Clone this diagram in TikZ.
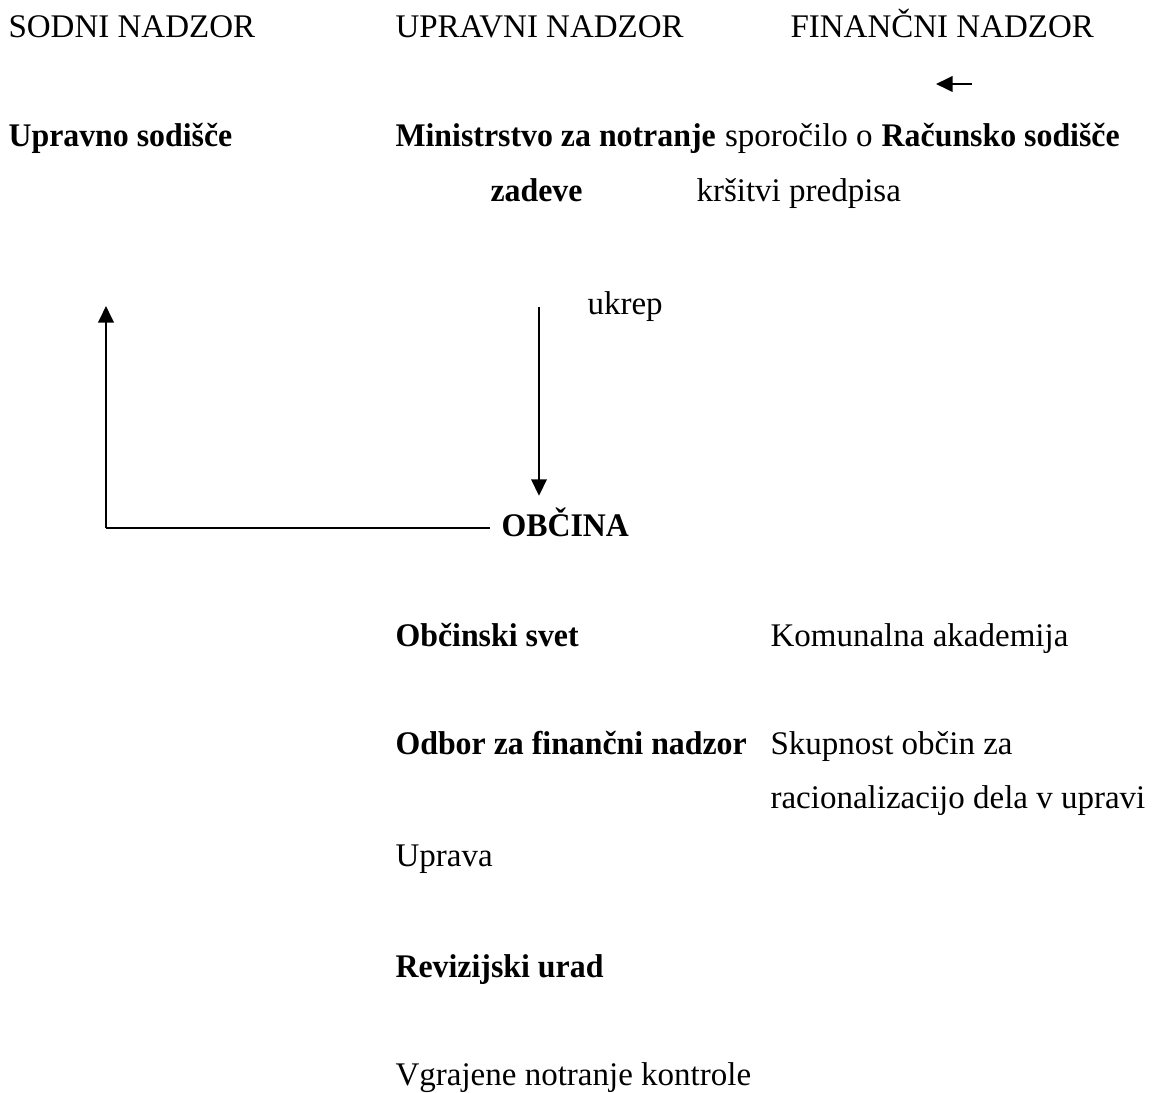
\documentclass[tikz,border=0pt]{standalone}
\usepackage{fontspec}
\setmainfont{Liberation Serif}[BoldFeatures={FakeStretch=0.965}]
\usetikzlibrary{arrows.meta,positioning,calc}
\tikzset{
	txt/.style={anchor=base west,inner sep=0,font=\fontsize{12}{14}\selectfont},
	btxt/.style={txt,font=\fontsize{12}{14}\selectfont\bfseries},
	line/.style={color=black, line width=0.8pt},
	arr/.style={-{Triangle[width=5.6pt,length=6pt]},color=black, line width=0.8pt}
}

\begin{document}
\begin{tikzpicture}[x=0.3636pt,y=-0.3636pt]
\useasboundingbox (0,0) rectangle (1155,1093);

%%%% headings
\node[txt] (sodni) at (8,38) {SODNI NADZOR};
\node[txt] (upravni) at (395,38) {UPRAVNI NADZOR};
\node[txt] (financni) at (790,38) {FINANČNI NADZOR};

%%%% organs
\node[btxt] (usod) at (8,147) {Upravno sodišče};
\node[btxt] (mnz) at (395,147) {Ministrstvo za notranje};
\node[txt] (sporoc) at (mnz.base east) {\ sporočilo o };
\node[btxt] (rsod) at (sporoc.base east) {\ Računsko sodišče};
\node[btxt] (zadeve) at (490,202) {zadeve};
\node[txt] (krsitvi) at (696,202) {kršitvi predpisa};

\node[txt] (ukrep) at (587,315) {ukrep};
\node[btxt,inner sep=4] (obcina) at (490,536) {OBČINA};

%%%% inside the municipality
\node[btxt] (osvet) at (395,646) {Občinski svet};
\node[txt] (komak) at (770,646) {Komunalna akademija};
\node[btxt] (odbor) at (395,754) {Odbor za finančni nadzor};
\node[txt] (skup1) at (770,754) {Skupnost občin za};
\node[txt] (skup2) at (770,808) {racionalizacijo dela v upravi};
\node[txt] (uprava) at (395,866) {Uprava};
\node[btxt] (revurad) at (395,977) {Revizijski urad};
\node[txt] (vgraj) at (395,1085) {Vgrajene notranje kontrole};

%%%% connectors
\coordinate (fa1) at (972,84);
\coordinate (fa2) at (936,84);
\draw[arr] (fa1) -- (fa2);

\coordinate (leftx) at (106,306);
\coordinate (corner) at (106,528);
\draw[line] (obcina.west |- corner) -- (corner);
\draw[arr] (corner) -- (leftx);

\coordinate (ukrtop) at (539,307);
\draw[arr] (ukrtop) -- (ukrtop |- obcina.north);
\end{tikzpicture}
\end{document}
